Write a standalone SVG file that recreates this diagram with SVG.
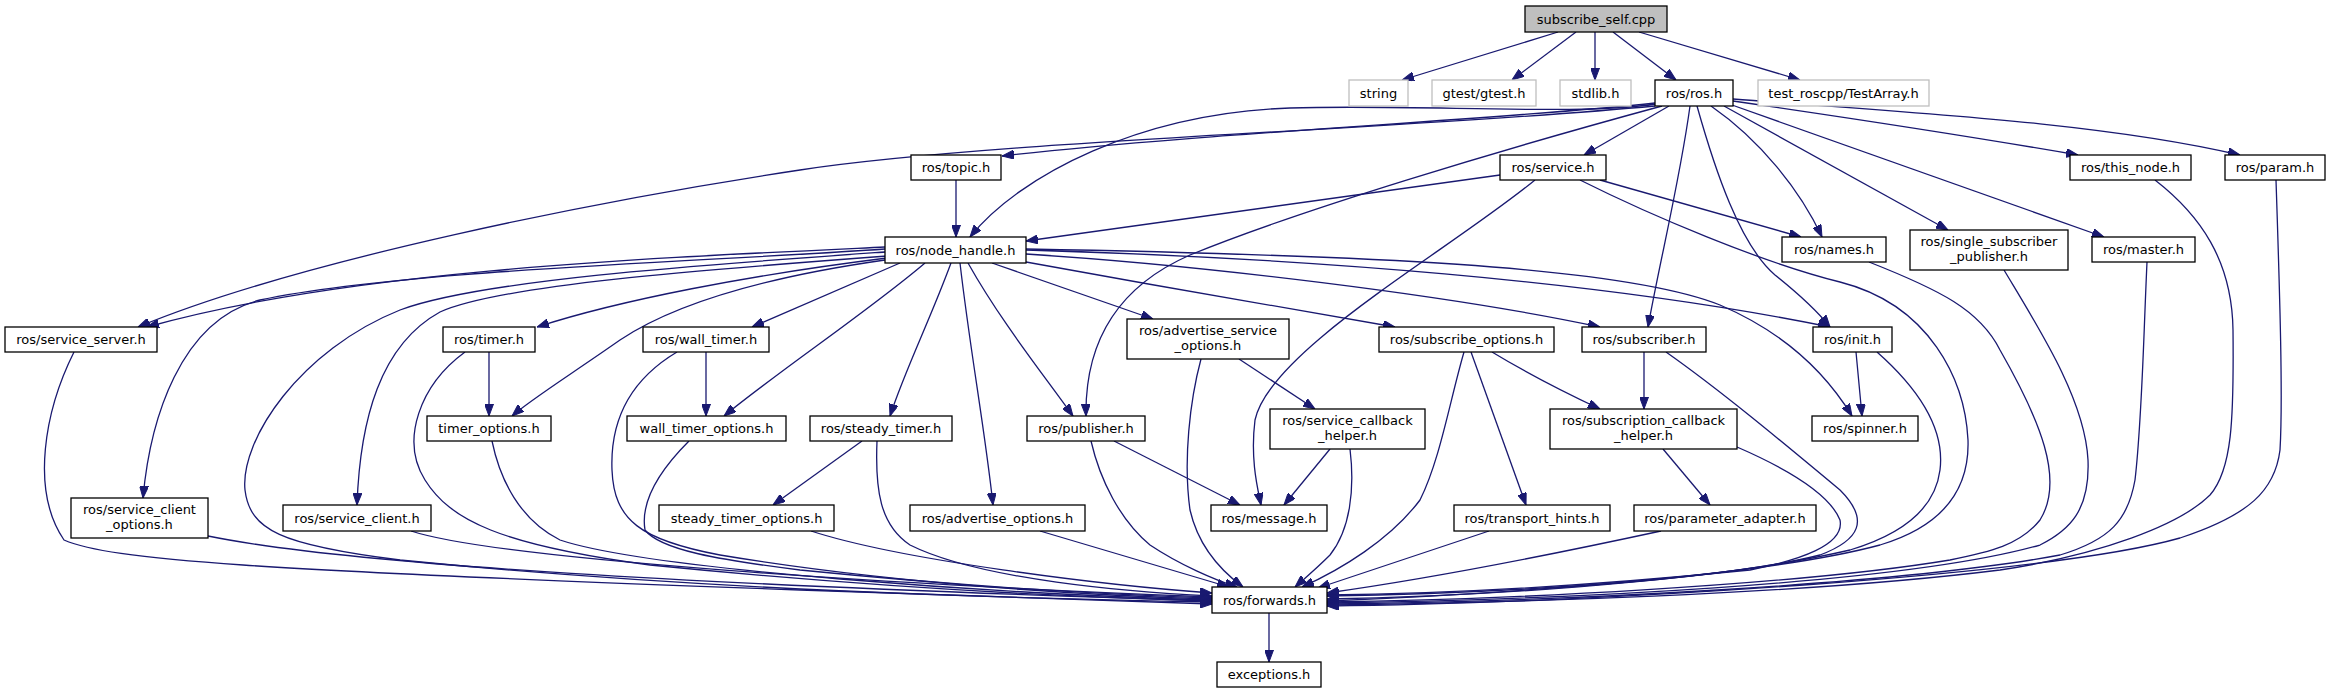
<svg xmlns="http://www.w3.org/2000/svg" width="2330" height="693" viewBox="0 0 2330 693">
<style>
.n rect{fill:#ffffff;stroke:#000000;stroke-width:1.3}
.n.g rect{stroke:#bfbfbf}
.n.root rect{fill:#bfbfbf}
.n text{font-family:"DejaVu Sans","Liberation Sans",sans-serif;font-size:13px;fill:#000000;text-anchor:middle}
#edges path{fill:none;stroke:#191970;stroke-width:1.3;marker-end:url(#arr)}
</style>
<defs>
<marker id="arr" markerUnits="userSpaceOnUse" markerWidth="12" markerHeight="9" viewBox="0 0 12 9" refX="12" refY="4.5" orient="auto">
<path d="M0,0 L12,4.5 L0,9 z" fill="#191970" stroke="#191970"/>
</marker>
</defs>
<rect width="2330" height="693" fill="#ffffff"/>
<g id="edges">
<path d="M1558,32 L1402,80"/>
<path d="M1576,32 L1512,80"/>
<path d="M1595,32 L1595,80"/>
<path d="M1613,32 L1676,80"/>
<path d="M1639,32 L1800,80"/>
<path d="M1655,103 C1500,120 1200,133 1002,156"/>
<path d="M1656,104 C1580,116 1420,104 1290,108 C1140,113 1020,175 970,237"/>
<path d="M1655,106 C1400,130 1000,140 800,170 C600,200 300,260 138,327"/>
<path d="M1662,106 C1500,150 1300,210 1190,255 C1110,290 1085,350 1086,416"/>
<path d="M1669,106 L1584,155"/>
<path d="M1690,106 C1680,180 1660,260 1648,327"/>
<path d="M1697,106 C1715,170 1740,245 1775,275 C1800,295 1818,312 1830,327"/>
<path d="M1711,106 C1760,140 1800,190 1822,237"/>
<path d="M1724,106 L1948,230"/>
<path d="M1732,105 L2104,237"/>
<path d="M1733,101 C1850,118 1980,138 2078,155"/>
<path d="M1733,99 C1900,112 2100,122 2240,155"/>
<path d="M1500,175 L1026,241"/>
<path d="M1600,180 L1801,237"/>
<path d="M1535,180 C1450,250 1270,350 1255,420 C1250,460 1258,490 1261,505"/>
<path d="M1580,180 C1650,215 1760,262 1840,282 C1930,305 1965,380 1968,440 C1970,500 1930,530 1880,545 C1750,580 1450,596 1327,601"/>
<path d="M956,180 L956,237"/>
<path d="M885,247 C650,258 350,270 147,327"/>
<path d="M885,249 C700,262 400,270 260,300 C180,320 150,420 143,498"/>
<path d="M885,252 C700,265 480,280 400,310 C300,350 240,440 245,490 C250,530 280,545 400,560 C700,590 1000,598 1212,602"/>
<path d="M887,256 C700,270 500,285 440,312 C380,345 360,420 357,505"/>
<path d="M887,258 C750,275 620,300 537,327"/>
<path d="M885,260 C780,275 680,300 620,340 C570,375 530,400 512,416"/>
<path d="M900,263 L752,327"/>
<path d="M925,263 C870,310 780,370 724,416"/>
<path d="M951,263 C930,320 905,370 890,416"/>
<path d="M960,263 C970,350 985,430 993,505"/>
<path d="M968,263 C1000,320 1040,370 1073,416"/>
<path d="M992,263 L1153,319"/>
<path d="M1026,262 C1150,285 1300,310 1395,327"/>
<path d="M1026,254 C1200,265 1450,295 1600,327"/>
<path d="M1026,250 C1300,258 1600,280 1830,327"/>
<path d="M1026,249 C1350,255 1620,265 1720,305 C1790,335 1830,380 1852,416"/>
<path d="M489,352 L489,416"/>
<path d="M465,352 C420,385 400,440 425,480 C450,520 500,545 650,565 C900,590 1100,598 1212,601"/>
<path d="M706,352 L706,416"/>
<path d="M677,352 C630,380 610,420 612,470 C614,520 640,540 720,555 C900,585 1100,596 1212,599"/>
<path d="M492,441 C500,480 520,520 560,540 C650,570 1000,594 1212,600"/>
<path d="M689,441 C660,470 640,500 645,530 C660,550 720,560 800,570 C1000,590 1150,596 1212,598"/>
<path d="M862,441 L773,505"/>
<path d="M877,441 C875,490 880,525 910,545 C980,580 1130,592 1212,596"/>
<path d="M74,352 C45,410 30,490 64,540 C110,560 250,570 800,590 C1000,597 1150,602 1212,604"/>
<path d="M208,536 C350,565 700,585 1212,601"/>
<path d="M411,531 C500,560 900,585 1212,597"/>
<path d="M811,531 C900,560 1100,585 1212,593"/>
<path d="M1040,531 L1229,587"/>
<path d="M1114,441 L1240,505"/>
<path d="M1091,441 C1100,480 1120,520 1150,545 C1180,565 1215,580 1237,587"/>
<path d="M1239,359 L1315,409"/>
<path d="M1201,359 C1190,400 1183,460 1190,510 C1198,545 1220,570 1243,587"/>
<path d="M1330,449 L1284,505"/>
<path d="M1350,449 C1355,490 1350,530 1330,555 C1315,570 1305,578 1295,587"/>
<path d="M1464,352 C1450,400 1440,460 1420,500 C1390,540 1340,570 1302,587"/>
<path d="M1471,352 L1526,505"/>
<path d="M1492,352 C1530,375 1570,395 1600,409"/>
<path d="M1489,531 L1318,588"/>
<path d="M1644,352 L1644,409"/>
<path d="M1666,352 C1720,390 1780,440 1840,490 C1870,520 1860,540 1820,555 C1700,585 1450,594 1327,596"/>
<path d="M1856,352 L1862,416"/>
<path d="M1877,352 C1920,390 1945,430 1940,470 C1935,510 1900,535 1850,550 C1700,585 1450,597 1327,599"/>
<path d="M1663,449 L1710,505"/>
<path d="M1737,447 C1790,470 1830,495 1840,520 C1845,545 1800,560 1750,570 C1550,590 1420,594 1327,595"/>
<path d="M1661,531 C1550,555 1420,580 1327,593"/>
<path d="M1869,262 C1940,290 1980,310 2000,350 C2040,420 2065,480 2040,520 C2020,545 1990,552 1950,560 C1800,585 1500,600 1327,602"/>
<path d="M2004,270 C2040,330 2085,400 2088,460 C2090,510 2070,530 2040,545 C1900,585 1550,600 1327,603"/>
<path d="M2147,262 C2143,350 2142,420 2135,480 C2128,520 2110,540 2060,555 C1900,585 1550,602 1327,604"/>
<path d="M2155,180 C2200,215 2232,260 2233,330 C2234,420 2232,470 2210,495 C2180,525 2100,555 2000,570 C1800,595 1500,603 1327,605"/>
<path d="M2276,180 C2280,300 2283,400 2280,450 C2275,490 2250,515 2180,538 C2050,575 1600,603 1327,606"/>
<path d="M1269,613 L1269,662"/>
</g>
<g id="n0" class="n root"><rect x="1525" y="6" width="142" height="26"/><text x="1596" y="23.5">subscribe_self.cpp</text></g>
<g id="n1" class="n g"><rect x="1349" y="80" width="59" height="26"/><text x="1378.5" y="97.5">string</text></g>
<g id="n2" class="n g"><rect x="1432" y="80" width="104" height="26"/><text x="1484" y="97.5">gtest/gtest.h</text></g>
<g id="n3" class="n g"><rect x="1560" y="80" width="71" height="26"/><text x="1595.5" y="97.5">stdlib.h</text></g>
<g id="n4" class="n"><rect x="1655" y="80" width="78" height="26"/><text x="1694" y="97.5">ros/ros.h</text></g>
<g id="n5" class="n g"><rect x="1758" y="80" width="171" height="26"/><text x="1843.5" y="97.5">test_roscpp/TestArray.h</text></g>
<g id="n6" class="n"><rect x="911" y="155" width="90" height="25"/><text x="956" y="172">ros/topic.h</text></g>
<g id="n7" class="n"><rect x="1500" y="155" width="106" height="25"/><text x="1553" y="172">ros/service.h</text></g>
<g id="n8" class="n"><rect x="2070" y="155" width="121" height="25"/><text x="2130.5" y="172">ros/this_node.h</text></g>
<g id="n9" class="n"><rect x="2225" y="155" width="100" height="25"/><text x="2275" y="172">ros/param.h</text></g>
<g id="n10" class="n"><rect x="885" y="237" width="141" height="26"/><text x="955.5" y="254.5">ros/node_handle.h</text></g>
<g id="n11" class="n"><rect x="1782" y="237" width="104" height="25"/><text x="1834" y="254">ros/names.h</text></g>
<g id="n12" class="n"><rect x="1910" y="230" width="158" height="40"/><text x="1989" y="245.5">ros/single_subscriber</text><text x="1989" y="261">_publisher.h</text></g>
<g id="n13" class="n"><rect x="2092" y="237" width="103" height="25"/><text x="2143.5" y="254">ros/master.h</text></g>
<g id="n14" class="n"><rect x="5" y="327" width="152" height="25"/><text x="81" y="344">ros/service_server.h</text></g>
<g id="n15" class="n"><rect x="443" y="327" width="92" height="25"/><text x="489" y="344">ros/timer.h</text></g>
<g id="n16" class="n"><rect x="643" y="327" width="126" height="25"/><text x="706" y="344">ros/wall_timer.h</text></g>
<g id="n17" class="n"><rect x="1127" y="319" width="162" height="40"/><text x="1208" y="334.5">ros/advertise_service</text><text x="1208" y="350">_options.h</text></g>
<g id="n18" class="n"><rect x="1379" y="327" width="175" height="25"/><text x="1466.5" y="344">ros/subscribe_options.h</text></g>
<g id="n19" class="n"><rect x="1582" y="327" width="124" height="25"/><text x="1644" y="344">ros/subscriber.h</text></g>
<g id="n20" class="n"><rect x="1813" y="327" width="79" height="25"/><text x="1852.5" y="344">ros/init.h</text></g>
<g id="n21" class="n"><rect x="427" y="416" width="124" height="25"/><text x="489" y="433">timer_options.h</text></g>
<g id="n22" class="n"><rect x="627" y="416" width="159" height="25"/><text x="706.5" y="433">wall_timer_options.h</text></g>
<g id="n23" class="n"><rect x="810" y="416" width="142" height="25"/><text x="881" y="433">ros/steady_timer.h</text></g>
<g id="n24" class="n"><rect x="1027" y="416" width="118" height="25"/><text x="1086" y="433">ros/publisher.h</text></g>
<g id="n25" class="n"><rect x="1270" y="409" width="155" height="40"/><text x="1347.5" y="424.5">ros/service_callback</text><text x="1347.5" y="440">_helper.h</text></g>
<g id="n26" class="n"><rect x="1550" y="409" width="187" height="40"/><text x="1643.5" y="424.5">ros/subscription_callback</text><text x="1643.5" y="440">_helper.h</text></g>
<g id="n27" class="n"><rect x="1812" y="416" width="106" height="25"/><text x="1865" y="433">ros/spinner.h</text></g>
<g id="n28" class="n"><rect x="71" y="498" width="137" height="40"/><text x="139.5" y="513.5">ros/service_client</text><text x="139.5" y="529">_options.h</text></g>
<g id="n29" class="n"><rect x="283" y="505" width="148" height="26"/><text x="357" y="522.5">ros/service_client.h</text></g>
<g id="n30" class="n"><rect x="659" y="505" width="175" height="26"/><text x="746.5" y="522.5">steady_timer_options.h</text></g>
<g id="n31" class="n"><rect x="910" y="505" width="175" height="26"/><text x="997.5" y="522.5">ros/advertise_options.h</text></g>
<g id="n32" class="n"><rect x="1211" y="505" width="116" height="26"/><text x="1269" y="522.5">ros/message.h</text></g>
<g id="n33" class="n"><rect x="1454" y="505" width="156" height="26"/><text x="1532" y="522.5">ros/transport_hints.h</text></g>
<g id="n34" class="n"><rect x="1634" y="505" width="182" height="26"/><text x="1725" y="522.5">ros/parameter_adapter.h</text></g>
<g id="n35" class="n"><rect x="1212" y="587" width="115" height="26"/><text x="1269.5" y="604.5">ros/forwards.h</text></g>
<g id="n36" class="n"><rect x="1217" y="662" width="104" height="25"/><text x="1269" y="679">exceptions.h</text></g>
</svg>
